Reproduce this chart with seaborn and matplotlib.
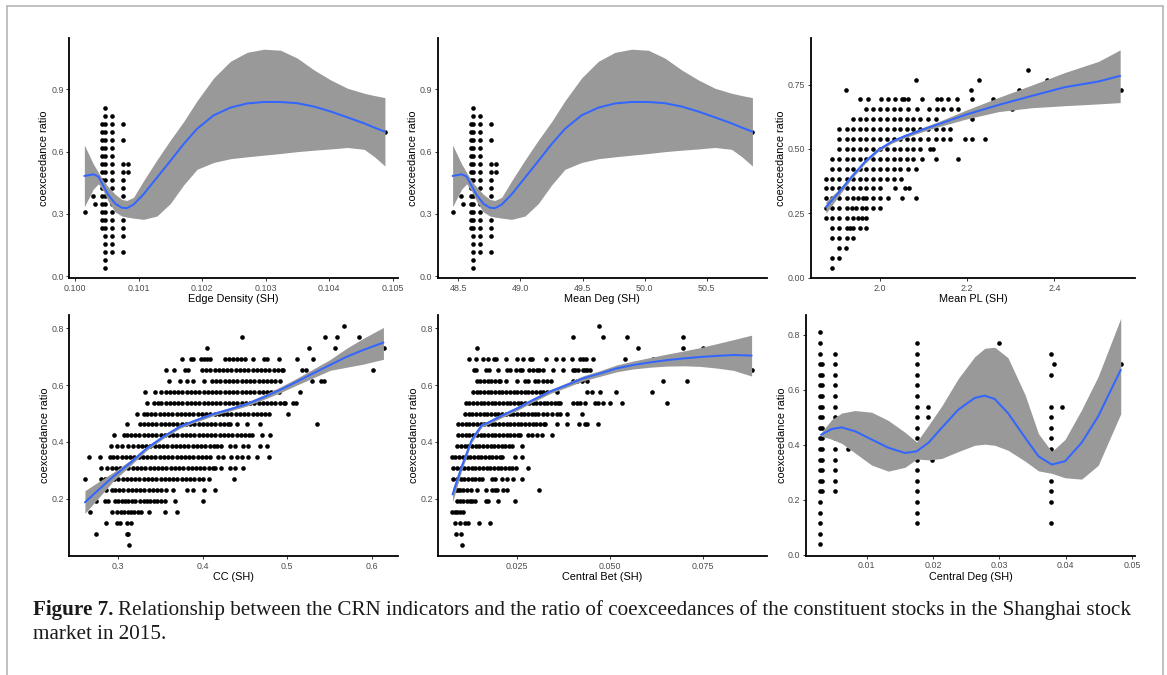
import matplotlib
matplotlib.use("Agg")
import matplotlib.pyplot as plt
import pandas as pd
import seaborn as sns
from matplotlib.lines import Line2D

# Ratios are counts of coexceeding constituents out of 26
N_CONSTITUENTS = 26

# ---------------------------------------------------------------- Edge Density / Mean Deg
# vertical columns of points: one x value per column, list of counts per column
ED_X = [0.10015, 0.10028, 0.10031, 0.10042, 0.10047, 0.10058, 0.10075, 0.10083, 0.10488]
MD_X = [48.454, 48.521, 48.540, 48.599, 48.621, 48.674, 48.760, 48.803, 50.868]
ED_COUNTS = [
    [8],
    [10],
    [9],
    [6, 7, 8, 9, 10, 11, 12, 13, 14, 15, 16, 17, 18, 19],
    [1, 2, 3, 4, 5, 6, 7, 8, 9, 10, 11, 12, 13, 14, 15, 16, 17, 18, 19, 20, 21],
    [3, 4, 5, 6, 7, 8, 9, 10, 11, 12, 13, 14, 15, 16, 17, 18, 19, 20],
    [3, 5, 6, 7, 8, 9, 10, 11, 12, 13, 14, 17, 19],
    [13, 14],
    [18],
]
ED_FIT_X = [0.100147, 0.100289, 0.100368, 0.100447, 0.100526, 0.100632, 0.100737, 0.100816,
            0.100921, 0.101079, 0.101289, 0.101500, 0.101711, 0.101921, 0.102184, 0.102447,
            0.102711, 0.102974, 0.103237, 0.103500, 0.103763, 0.104026, 0.104289, 0.104553,
            0.104711, 0.104879]
MD_FIT_X = [48.454, 48.527, 48.567, 48.607, 48.648, 48.701, 48.755, 48.795, 48.849, 48.930,
            49.037, 49.144, 49.252, 49.359, 49.493, 49.628, 49.762, 49.896, 50.030, 50.164,
            50.299, 50.433, 50.567, 50.701, 50.782, 50.868]
ED_FIT_Y = [0.483, 0.491, 0.480, 0.435, 0.391, 0.350, 0.330, 0.328, 0.345, 0.395, 0.475,
            0.555, 0.637, 0.710, 0.775, 0.812, 0.832, 0.839, 0.839, 0.833, 0.817, 0.793,
            0.765, 0.736, 0.716, 0.696]
ED_FIT_LO = [0.335, 0.420, 0.445, 0.410, 0.360, 0.310, 0.290, 0.285, 0.280, 0.274, 0.290,
             0.350, 0.440, 0.515, 0.548, 0.566, 0.575, 0.583, 0.591, 0.600, 0.607, 0.613,
             0.620, 0.611, 0.576, 0.531]
ED_FIT_HI = [0.632, 0.540, 0.500, 0.460, 0.430, 0.395, 0.370, 0.365, 0.380, 0.460, 0.560,
             0.655, 0.745, 0.845, 0.955, 1.035, 1.078, 1.093, 1.088, 1.050, 0.993, 0.945,
             0.905, 0.881, 0.870, 0.860]

# ---------------------------------------------------------------- Mean PL
PL_ROWS = {
    1: [1.891],
    2: [1.891, 1.907],
    3: [1.907, 1.922],
    4: [1.891, 1.907, 1.924, 1.939],
    5: [1.891, 1.907, 1.924, 1.931, 1.939, 1.954, 1.969],
    6: [1.876, 1.891, 1.907, 1.924, 1.939, 1.950, 1.958, 1.969],
    7: [1.876, 1.891, 1.907, 1.924, 1.935, 1.946, 1.958, 1.969, 1.985, 2.000],
    8: [1.876, 1.891, 1.907, 1.924, 1.939, 1.950, 1.962, 1.969, 1.985, 2.000, 2.019, 2.050, 2.082],
    9: [1.876, 1.891, 1.907, 1.924, 1.939, 1.954, 1.969, 1.985, 2.000, 2.034, 2.057, 2.067],
    10: [1.876, 1.891, 1.907, 1.924, 1.939, 1.954, 1.969, 1.985, 2.000, 2.015, 2.031, 2.048],
    11: [1.891, 1.907, 1.924, 1.939, 1.954, 1.969, 1.985, 2.000, 2.015, 2.031, 2.046, 2.065, 2.082],
    12: [1.891, 1.907, 1.924, 1.939, 1.954, 1.969, 1.985, 2.000, 2.015, 2.031, 2.046, 2.061,
         2.076, 2.097, 2.128, 2.178],
    13: [1.907, 1.924, 1.939, 1.954, 1.969, 1.985, 2.000, 2.015, 2.031, 2.046, 2.061, 2.076,
         2.092, 2.115, 2.122],
    14: [1.907, 1.924, 1.939, 1.954, 1.969, 1.985, 2.000, 2.015, 2.031, 2.046, 2.061, 2.076,
         2.092, 2.111, 2.128, 2.145, 2.161, 2.195, 2.210, 2.241],
    15: [1.907, 1.924, 1.939, 1.954, 1.969, 1.985, 2.000, 2.015, 2.031, 2.046, 2.061, 2.076,
         2.092, 2.111, 2.128, 2.145, 2.161],
    16: [1.939, 1.954, 1.969, 1.985, 2.000, 2.015, 2.031, 2.046, 2.061, 2.076, 2.092, 2.111,
         2.128, 2.210],
    17: [1.969, 1.985, 2.000, 2.015, 2.031, 2.046, 2.065, 2.084, 2.112, 2.130, 2.145, 2.164,
         2.180, 2.302],
    18: [1.954, 1.973, 2.002, 2.019, 2.034, 2.050, 2.054, 2.065, 2.097, 2.130, 2.140, 2.157,
         2.177, 2.210, 2.259],
    19: [1.922, 2.208, 2.319, 2.553],
    20: [2.083, 2.226, 2.382],
    21: [2.339],
}
PL_FIT_X = [1.876, 1.904, 1.935, 1.966, 1.996, 2.027, 2.057, 2.096, 2.134, 2.195, 2.272,
            2.348, 2.424, 2.501, 2.551]
PL_FIT_Y = [0.274, 0.328, 0.392, 0.451, 0.496, 0.528, 0.550, 0.574, 0.596, 0.632, 0.671,
            0.706, 0.740, 0.762, 0.784]
PL_FIT_LO = [0.250, 0.314, 0.384, 0.444, 0.490, 0.522, 0.543, 0.566, 0.586, 0.615, 0.645,
             0.660, 0.668, 0.675, 0.680]
PL_FIT_HI = [0.295, 0.340, 0.400, 0.458, 0.502, 0.534, 0.556, 0.582, 0.606, 0.649, 0.700,
             0.748, 0.797, 0.840, 0.885]

# ---------------------------------------------------------------- CC
CC_ROWS = {
    1: [0.313],
    2: [0.274, 0.310, 0.312],
    3: [0.285, 0.299, 0.302, 0.310, 0.315],
    4: [0.266, 0.293, 0.299, 0.303, 0.307, 0.311, 0.315, 0.319, 0.323, 0.327, 0.336, 0.355, 0.370],
    5: [0.274, 0.284, 0.288, 0.296, 0.300, 0.304, 0.308, 0.312, 0.316, 0.320, 0.326, 0.330,
        0.334, 0.338, 0.342, 0.346, 0.351, 0.355, 0.367, 0.400],
    6: [0.278, 0.286, 0.292, 0.296, 0.301, 0.306, 0.311, 0.316, 0.321, 0.326, 0.331, 0.336,
        0.341, 0.346, 0.351, 0.356, 0.365, 0.381, 0.389, 0.402, 0.414],
    7: [0.260, 0.280, 0.284, 0.290, 0.295, 0.300, 0.305, 0.310, 0.315, 0.320, 0.325, 0.330,
        0.335, 0.340, 0.345, 0.350, 0.355, 0.360, 0.365, 0.370, 0.375, 0.380, 0.385, 0.390,
        0.395, 0.400, 0.407, 0.437],
    8: [0.280, 0.287, 0.292, 0.297, 0.302, 0.307, 0.312, 0.317, 0.322, 0.327, 0.332, 0.337,
        0.342, 0.347, 0.352, 0.357, 0.362, 0.367, 0.372, 0.377, 0.382, 0.387, 0.392, 0.397,
        0.402, 0.407, 0.412, 0.415, 0.422, 0.432, 0.438, 0.448],
    9: [0.265, 0.278, 0.290, 0.294, 0.299, 0.304, 0.309, 0.314, 0.319, 0.324, 0.329, 0.334,
        0.339, 0.344, 0.349, 0.354, 0.359, 0.364, 0.369, 0.374, 0.379, 0.384, 0.389, 0.394,
        0.399, 0.404, 0.409, 0.418, 0.424, 0.434, 0.440, 0.446, 0.454, 0.464, 0.478],
    10: [0.291, 0.298, 0.304, 0.312, 0.318, 0.323, 0.328, 0.333, 0.338, 0.343, 0.348, 0.353,
         0.358, 0.363, 0.368, 0.373, 0.378, 0.383, 0.388, 0.393, 0.398, 0.403, 0.408, 0.413,
         0.417, 0.422, 0.432, 0.438, 0.448, 0.453, 0.468, 0.476],
    11: [0.295, 0.307, 0.310, 0.315, 0.320, 0.325, 0.330, 0.335, 0.340, 0.345, 0.350, 0.355,
         0.360, 0.365, 0.370, 0.375, 0.380, 0.385, 0.390, 0.395, 0.400, 0.405, 0.410, 0.415,
         0.420, 0.425, 0.430, 0.435, 0.440, 0.445, 0.450, 0.455, 0.458, 0.470, 0.480],
    12: [0.310, 0.326, 0.330, 0.335, 0.340, 0.345, 0.350, 0.355, 0.360, 0.365, 0.370, 0.375,
         0.380, 0.385, 0.390, 0.395, 0.400, 0.405, 0.410, 0.415, 0.420, 0.425, 0.430, 0.432,
         0.440, 0.452, 0.468, 0.535],
    13: [0.322, 0.330, 0.334, 0.339, 0.344, 0.349, 0.354, 0.359, 0.364, 0.369, 0.374, 0.379,
         0.384, 0.389, 0.394, 0.399, 0.404, 0.409, 0.414, 0.419, 0.424, 0.429, 0.434, 0.439,
         0.444, 0.449, 0.454, 0.459, 0.464, 0.469, 0.474, 0.478, 0.501],
    14: [0.334, 0.342, 0.347, 0.351, 0.356, 0.361, 0.366, 0.371, 0.376, 0.381, 0.386, 0.391,
         0.396, 0.401, 0.406, 0.411, 0.416, 0.421, 0.426, 0.431, 0.436, 0.441, 0.446, 0.451,
         0.456, 0.461, 0.466, 0.471, 0.476, 0.481, 0.486, 0.491, 0.496, 0.497, 0.507, 0.510],
    15: [0.332, 0.343, 0.351, 0.356, 0.361, 0.366, 0.371, 0.376, 0.381, 0.386, 0.391, 0.396,
         0.401, 0.406, 0.411, 0.416, 0.421, 0.426, 0.431, 0.436, 0.441, 0.446, 0.451, 0.456,
         0.461, 0.466, 0.471, 0.476, 0.481, 0.486, 0.490, 0.515],
    16: [0.360, 0.373, 0.381, 0.389, 0.401, 0.411, 0.416, 0.421, 0.426, 0.431, 0.436, 0.441,
         0.446, 0.451, 0.456, 0.461, 0.466, 0.471, 0.476, 0.481, 0.486, 0.492, 0.529, 0.540,
         0.543],
    17: [0.357, 0.366, 0.379, 0.383, 0.399, 0.404, 0.409, 0.414, 0.419, 0.424, 0.429, 0.434,
         0.439, 0.444, 0.449, 0.454, 0.459, 0.464, 0.469, 0.474, 0.479, 0.484, 0.489, 0.494,
         0.495, 0.518, 0.522, 0.602],
    18: [0.376, 0.386, 0.389, 0.398, 0.402, 0.405, 0.409, 0.426, 0.431, 0.436, 0.441, 0.445,
         0.450, 0.459, 0.472, 0.476, 0.490, 0.511, 0.530],
    19: [0.405, 0.526, 0.556, 0.615],
    20: [0.447, 0.545, 0.559, 0.585],
    21: [0.567],
}
CC_FIT_X = [0.2605, 0.2743, 0.2941, 0.3138, 0.3336, 0.3533, 0.3730, 0.3928, 0.4125, 0.4323,
            0.4520, 0.4717, 0.4915, 0.5112, 0.5310, 0.5507, 0.5704, 0.5902, 0.6139]
CC_FIT_Y = [0.187, 0.225, 0.278, 0.325, 0.377, 0.418, 0.454, 0.477, 0.498, 0.515, 0.533,
            0.557, 0.583, 0.612, 0.642, 0.671, 0.700, 0.724, 0.750]
CC_FIT_LO = [0.148, 0.195, 0.262, 0.315, 0.370, 0.412, 0.448, 0.471, 0.492, 0.509, 0.526,
             0.549, 0.573, 0.600, 0.626, 0.652, 0.663, 0.674, 0.691]
CC_FIT_HI = [0.228, 0.255, 0.293, 0.335, 0.384, 0.424, 0.460, 0.483, 0.504, 0.521, 0.540,
             0.565, 0.593, 0.624, 0.657, 0.690, 0.730, 0.765, 0.803]

# ---------------------------------------------------------------- Central Bet
CB_ROWS = {
    1: [0.0100],
    2: [0.0085, 0.0097],
    3: [0.0082, 0.0095, 0.0109, 0.0118, 0.0146, 0.0176],
    4: [0.0073, 0.0082, 0.0088, 0.0095, 0.0104],
    5: [0.0088, 0.0095, 0.0104, 0.0113, 0.0122, 0.0127, 0.0136, 0.0166, 0.0172, 0.0199, 0.0244],
    6: [0.0085, 0.0091, 0.0095, 0.0104, 0.0113, 0.0124, 0.0140, 0.0166, 0.0181, 0.0190, 0.0194,
        0.0212, 0.0221, 0.0309],
    7: [0.0077, 0.0087, 0.0097, 0.0107, 0.0117, 0.0127, 0.0137, 0.0147, 0.0154, 0.0181, 0.0190,
        0.0208, 0.0221, 0.0239, 0.0262],
    8: [0.0077, 0.0087, 0.0097, 0.0107, 0.0117, 0.0127, 0.0137, 0.0147, 0.0157, 0.0167, 0.0177,
        0.0187, 0.0197, 0.0207, 0.0217, 0.0227, 0.0237, 0.0247, 0.0280],
    9: [0.0073, 0.0083, 0.0093, 0.0103, 0.0113, 0.0123, 0.0133, 0.0143, 0.0153, 0.0163, 0.0173,
        0.0183, 0.0193, 0.0203, 0.0208, 0.0244, 0.0262],
    10: [0.0088, 0.0098, 0.0108, 0.0118, 0.0128, 0.0138, 0.0148, 0.0158, 0.0168, 0.0178, 0.0188,
         0.0198, 0.0208, 0.0218, 0.0228, 0.0235, 0.0264],
    11: [0.0091, 0.0101, 0.0111, 0.0121, 0.0131, 0.0141, 0.0151, 0.0161, 0.0171, 0.0181, 0.0191,
         0.0201, 0.0211, 0.0221, 0.0231, 0.0241, 0.0251, 0.0257, 0.0280, 0.0290, 0.0302, 0.0316,
         0.0343],
    12: [0.0091, 0.0101, 0.0111, 0.0121, 0.0131, 0.0141, 0.0151, 0.0161, 0.0171, 0.0181, 0.0191,
         0.0201, 0.0211, 0.0221, 0.0231, 0.0241, 0.0251, 0.0261, 0.0271, 0.0281, 0.0291, 0.0301,
         0.0311, 0.0321, 0.0325, 0.0356, 0.0383, 0.0416, 0.0433, 0.0439, 0.0469],
    13: [0.0109, 0.0119, 0.0129, 0.0139, 0.0149, 0.0159, 0.0169, 0.0179, 0.0189, 0.0199, 0.0209,
         0.0219, 0.0229, 0.0239, 0.0249, 0.0259, 0.0269, 0.0279, 0.0289, 0.0299, 0.0307, 0.0320,
         0.0329, 0.0343, 0.0356, 0.0365, 0.0383, 0.0424],
    14: [0.0111, 0.0121, 0.0131, 0.0141, 0.0151, 0.0161, 0.0171, 0.0181, 0.0191, 0.0201, 0.0211,
         0.0221, 0.0231, 0.0241, 0.0251, 0.0261, 0.0271, 0.0281, 0.0291, 0.0301, 0.0311, 0.0321,
         0.0331, 0.0341, 0.0351, 0.0361, 0.0365, 0.0401, 0.0410, 0.0419, 0.0433, 0.0460, 0.0469,
         0.0482, 0.0500, 0.0532, 0.0653],
    15: [0.0130, 0.0140, 0.0150, 0.0160, 0.0170, 0.0180, 0.0190, 0.0200, 0.0210, 0.0220, 0.0230,
         0.0240, 0.0250, 0.0260, 0.0270, 0.0280, 0.0290, 0.0300, 0.0310, 0.0320, 0.0329, 0.0356,
         0.0437, 0.0451, 0.0473, 0.0516, 0.0612],
    16: [0.0140, 0.0150, 0.0160, 0.0170, 0.0180, 0.0190, 0.0200, 0.0203, 0.0219, 0.0248, 0.0271,
         0.0280, 0.0298, 0.0307, 0.0318, 0.0329, 0.0341, 0.0399, 0.0410, 0.0424, 0.0437, 0.0642,
         0.0707],
    17: [0.0133, 0.0139, 0.0166, 0.0175, 0.0199, 0.0221, 0.0230, 0.0246, 0.0257, 0.0262, 0.0282,
         0.0291, 0.0302, 0.0309, 0.0320, 0.0345, 0.0374, 0.0399, 0.0406, 0.0415, 0.0426, 0.0433,
         0.0439, 0.0446, 0.0884],
    18: [0.0121, 0.0139, 0.0157, 0.0172, 0.0187, 0.0192, 0.0219, 0.0248, 0.0266, 0.0284, 0.0289,
         0.0327, 0.0354, 0.0374, 0.0398, 0.0419, 0.0428, 0.0435, 0.0455, 0.0541, 0.0617],
    19: [0.0140, 0.0576, 0.0698, 0.0750],
    20: [0.0400, 0.0482, 0.0547, 0.0698],
    21: [0.0470],
}
CB_FIT_X = [0.00755, 0.0100, 0.0127, 0.0154, 0.0167, 0.0203, 0.0250, 0.0293, 0.0338, 0.0383,
            0.0428, 0.0473, 0.0518, 0.0563, 0.0608, 0.0653, 0.0698, 0.0743, 0.0788, 0.0833,
            0.0882]
CB_FIT_Y = [0.215, 0.313, 0.407, 0.459, 0.465, 0.489, 0.518, 0.548, 0.577, 0.600, 0.624,
            0.641, 0.659, 0.671, 0.680, 0.688, 0.694, 0.699, 0.703, 0.706, 0.704]
CB_FIT_LO = [0.188, 0.300, 0.398, 0.452, 0.459, 0.482, 0.511, 0.541, 0.570, 0.592, 0.615,
             0.631, 0.647, 0.657, 0.663, 0.667, 0.668, 0.666, 0.660, 0.652, 0.632]
CB_FIT_HI = [0.236, 0.326, 0.416, 0.466, 0.471, 0.496, 0.525, 0.555, 0.584, 0.608, 0.633,
             0.651, 0.671, 0.685, 0.697, 0.709, 0.720, 0.732, 0.746, 0.760, 0.776]

# ---------------------------------------------------------------- Central Deg
CD_X = [0.0030, 0.0033, 0.00523, 0.00724, 0.01754, 0.0193, 0.0198, 0.0300, 0.0378, 0.0382,
        0.0394, 0.0483]
CD_COUNTS = [
    [1, 2, 3, 4, 5, 6, 7, 8, 9, 10, 11, 12, 13, 14, 15, 16, 17, 18, 19, 20, 21],
    [6, 7, 8, 9, 10, 11, 12, 13, 14, 15, 16, 17, 18],
    [6, 7, 8, 9, 10, 11, 13, 14, 15, 16, 17, 18, 19],
    [10],
    [3, 4, 5, 6, 7, 8, 9, 10, 11, 12, 13, 14, 15, 16, 17, 18, 19, 20],
    [13, 14],
    [9],
    [20],
    [3, 5, 6, 7, 10, 11, 12, 13, 14, 17, 19],
    [18],
    [14],
    [18],
]
CD_FIT_X = [0.00312, 0.00472, 0.00623, 0.00824, 0.01075, 0.01327, 0.01578, 0.01754, 0.0193,
            0.0213, 0.0238, 0.0263, 0.0278, 0.0293, 0.0313, 0.0339, 0.0359, 0.0379, 0.0399,
            0.0424, 0.0449, 0.0483]
CD_FIT_Y = [0.436, 0.457, 0.463, 0.449, 0.419, 0.389, 0.370, 0.376, 0.407, 0.461, 0.527,
            0.570, 0.578, 0.566, 0.515, 0.425, 0.358, 0.328, 0.340, 0.407, 0.503, 0.672]
CD_FIT_LO = [0.431, 0.420, 0.405, 0.370, 0.326, 0.304, 0.318, 0.348, 0.345, 0.350, 0.375,
             0.398, 0.402, 0.398, 0.380, 0.340, 0.305, 0.296, 0.280, 0.275, 0.325, 0.512]
CD_FIT_HI = [0.443, 0.491, 0.515, 0.524, 0.518, 0.488, 0.445, 0.410, 0.470, 0.540, 0.640,
             0.720, 0.750, 0.754, 0.716, 0.580, 0.440, 0.375, 0.419, 0.527, 0.648, 0.859]

CAPTION_BOLD = "Figure 7."
CAPTION_LINE1 = ("Relationship between the CRN indicators and the ratio of coexceedances "
                 "of the constituent stocks in the Shanghai stock")
CAPTION_LINE2 = "market in 2015."


def columns_frame(xs, counts):
    recs = [(x, c / N_CONSTITUENTS) for x, ks in zip(xs, counts) for c in ks]
    return pd.DataFrame(recs, columns=["x", "ratio"])


def rows_frame(rows):
    recs = [(x, c / N_CONSTITUENTS) for c, xs in rows.items() for x in xs]
    return pd.DataFrame(recs, columns=["x", "ratio"])


sns.set_theme(style="white")
plt.rcParams["font.family"] = ["Liberation Sans", "DejaVu Sans"]

W, H = 1167, 675
fig = plt.figure(figsize=(W / 100, H / 100), dpi=100)
fig.patch.set_facecolor("white")


def panel(box, df, fx, fy, flo, fhi, xlim, ylim, xticks, xlabels, yticks, ylabels,
          xlabel, ylab_off):
    left, top, right, bottom = box
    ax = fig.add_axes([left / W, 1 - bottom / H, (right - left) / W, (bottom - top) / H])
    ax.set_facecolor("white")
    sns.scatterplot(data=df, x="x", y="ratio", ax=ax, color="black", s=11,
                    linewidth=0, zorder=2, legend=False)
    ax.fill_between(fx, flo, fhi, color="#999999", linewidth=0, zorder=3)
    sns.lineplot(x=fx, y=fy, ax=ax, color="#3366FF", linewidth=1.45, sort=False,
                 estimator=None, zorder=4, legend=False)
    ax.set_xlim(*xlim)
    ax.set_ylim(*ylim)
    ax.set_xticks(xticks)
    ax.set_xticklabels(xlabels)
    ax.set_yticks(yticks)
    ax.set_yticklabels(ylabels)
    sns.despine(ax=ax)
    for side in ("left", "bottom"):
        ax.spines[side].set_color("black")
        ax.spines[side].set_linewidth(1.3)
    ax.tick_params(axis="both", direction="out", length=2.2, width=0.7, color="#333333",
                   labelcolor="#4D4D4D", labelsize=6.4, pad=1.8, bottom=True, left=True)
    ax.set_xlabel(xlabel, fontsize=7.8, color="black")
    ax.set_ylabel("coexceedance ratio", fontsize=7.8, color="black")
    axw, axh = right - left, bottom - top
    ax.xaxis.set_label_coords(0.5, -21 / axh)
    ax.xaxis.label.set_va("center")
    ax.yaxis.set_label_coords(-ylab_off / axw, 0.5)
    ax.yaxis.label.set_va("center")
    ax.grid(False)
    return ax


panel((69.3, 38.3, 397.7, 278.3), columns_frame(ED_X, ED_COUNTS),
      ED_FIT_X, ED_FIT_Y, ED_FIT_LO, ED_FIT_HI,
      (0.09991, 0.10508), (-0.0096, 1.1455),
      [0.100, 0.101, 0.102, 0.103, 0.104, 0.105],
      ["0.100", "0.101", "0.102", "0.103", "0.104", "0.105"],
      [0.0, 0.3, 0.6, 0.9], ["0.0", "0.3", "0.6", "0.9"], "Edge Density (SH)", 25)

panel((437.7, 38.3, 766.7, 278.3), columns_frame(MD_X, ED_COUNTS),
      MD_FIT_X, ED_FIT_Y, ED_FIT_LO, ED_FIT_HI,
      (48.334, 50.983), (-0.0096, 1.1455),
      [48.5, 49.0, 49.5, 50.0, 50.5], ["48.5", "49.0", "49.5", "50.0", "50.5"],
      [0.0, 0.3, 0.6, 0.9], ["0.0", "0.3", "0.6", "0.9"], "Mean Deg (SH)", 24.7)

panel((810.7, 38.3, 1135, 278.3), rows_frame(PL_ROWS),
      PL_FIT_X, PL_FIT_Y, PL_FIT_LO, PL_FIT_HI,
      (1.841, 2.585), (-0.003, 0.930),
      [2.0, 2.2, 2.4], ["2.0", "2.2", "2.4"],
      [0.0, 0.25, 0.5, 0.75], ["0.00", "0.25", "0.50", "0.75"], "Mean PL (SH)", 30)

panel((69.3, 315, 397.7, 556), rows_frame(CC_ROWS),
      CC_FIT_X, CC_FIT_Y, CC_FIT_LO, CC_FIT_HI,
      (0.242, 0.6308), (-0.002, 0.847),
      [0.3, 0.4, 0.5, 0.6], ["0.3", "0.4", "0.5", "0.6"],
      [0.2, 0.4, 0.6, 0.8], ["0.2", "0.4", "0.6", "0.8"], "CC (SH)", 24)

panel((438.3, 315, 766.7, 556), rows_frame(CB_ROWS),
      CB_FIT_X, CB_FIT_Y, CB_FIT_LO, CB_FIT_HI,
      (0.00369, 0.09227), (-0.002, 0.847),
      [0.025, 0.050, 0.075], ["0.025", "0.050", "0.075"],
      [0.2, 0.4, 0.6, 0.8], ["0.2", "0.4", "0.6", "0.8"], "Central Bet (SH)", 24)

panel((806, 315, 1135, 555.7), columns_frame(CD_X, CD_COUNTS),
      CD_FIT_X, CD_FIT_Y, CD_FIT_LO, CD_FIT_HI,
      (0.000854, 0.05045), (-0.003, 0.871),
      [0.01, 0.02, 0.03, 0.04, 0.05], ["0.01", "0.02", "0.03", "0.04", "0.05"],
      [0.0, 0.2, 0.4, 0.6, 0.8], ["0.0", "0.2", "0.4", "0.6", "0.8"], "Central Deg (SH)", 24)

# page frame around the figure block
frame_kw = dict(transform=fig.transFigure, color="#b0b0b0", linewidth=1.1)
fig.add_artist(Line2D([7 / W, 7 / W], [1 - 6 / H, 0], **frame_kw))
fig.add_artist(Line2D([7 / W, 1163 / W], [1 - 6 / H, 1 - 6 / H], **frame_kw))
fig.add_artist(Line2D([1163 / W, 1163 / W], [1 - 6 / H, 0], **frame_kw))

# caption: first line is set to run from x=33 px to x=1133 px
CAP_LEFT, CAP_RIGHT = 33, 1133
renderer = fig.canvas.get_renderer()


def set_caption(size):
    kw = dict(family=["Liberation Serif", "DejaVu Serif"], fontsize=size, color="#1a1a1a",
              va="baseline", ha="left")
    t_bold = fig.text(CAP_LEFT / W, 1 - 615 / H, CAPTION_BOLD, fontweight="bold", **kw)
    bb = t_bold.get_window_extent(renderer=renderer)
    t_rest = fig.text((bb.x1 + 0.3 * size) / W, 1 - 615 / H, CAPTION_LINE1, **kw)
    t_last = fig.text(CAP_LEFT / W, 1 - 639 / H, CAPTION_LINE2, **kw)
    return [t_bold, t_rest, t_last]


size = 13.4
texts = set_caption(size)
end = texts[1].get_window_extent(renderer=renderer).x1
for t in texts:
    t.remove()
size = size * (CAP_RIGHT - CAP_LEFT) / (end - CAP_LEFT)
set_caption(size)

fig.savefig("out.png", dpi=100, facecolor="white")
